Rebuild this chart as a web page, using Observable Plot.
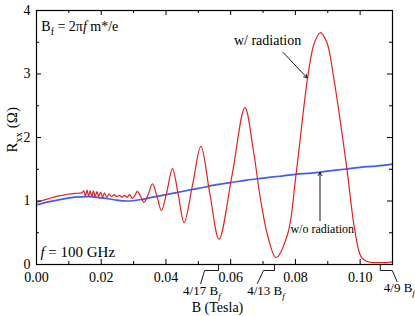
<!DOCTYPE html>
<html><head><meta charset="utf-8">
<script src="https://cdn.jsdelivr.net/npm/d3@7"></script>
<script src="https://cdn.jsdelivr.net/npm/@observablehq/plot@0.6"></script>
<style>html,body{margin:0;padding:0;background:#fff;}</style>
</head><body><div id="chart"></div>
<script>
// ---- data (B in Tesla, Rxx in Ohm) ----
const redB = [0.000,0.002,0.004,0.006,0.008,0.010,0.012,
  0.0140,0.0146,0.0151,0.0156,0.0161,0.0166,0.0171,0.0176,0.0181,0.0187,0.0192,0.0198,0.0204,0.0210,0.0217,0.0224,0.0232,0.0240,0.0248,0.0256,0.0264,0.0272,0.0280,0.0288,0.0296,0.0304,0.0312,0.0322,0.0332,
  0.0345,0.0358,0.0372,0.0386,0.0403,0.0420,0.0438,0.0456,0.0482,0.0508,0.0536,0.0564,
  0.0604,0.0644,0.0670,0.0693,0.0717,0.0740,0.0776,0.0802,0.0838,0.0858,0.0877,0.0897,0.0918,0.0959,0.0982,0.1003,
  0.1020,0.1040,0.1060,0.1080,0.1100];
const redR = [0.98,1.01,1.04,1.07,1.09,1.11,1.12,
  1.13,1.16,1.08,1.17,1.08,1.16,1.07,1.16,1.07,1.15,1.07,1.14,1.06,1.13,1.06,1.11,1.07,1.10,1.07,1.09,1.06,1.09,1.06,1.10,1.04,1.09,1.15,1.07,0.98,
  1.10,1.27,1.08,0.85,1.15,1.51,1.10,0.66,1.25,1.86,1.10,0.40,
  1.40,2.47,1.80,1.00,0.40,0.11,0.48,1.42,2.95,3.48,3.65,3.50,2.95,1.51,0.59,0.12,
  0.05,0.03,0.03,0.03,0.04];
const blueB = [0,0.004,0.008,0.012,0.016,0.020,0.024,0.028,0.032,0.036,0.040,0.045,0.050,0.055,0.060,0.065,0.070,0.075,0.080,0.085,0.090,0.095,0.100,0.105,0.110];
const blueR = [0.94,0.99,1.03,1.06,1.07,1.05,1.02,1.00,1.02,1.06,1.10,1.15,1.20,1.25,1.29,1.33,1.36,1.39,1.42,1.44,1.47,1.50,1.53,1.55,1.58];

const xMajorTicks = [0,0.02,0.04,0.06,0.08,0.10];
const xMinorTicks = [0.01,0.03,0.05,0.07,0.09];
const yMajorTicks = [0,1,2,3,4];
const yMinorTicks = [0.5,1.5,2.5,3.5];

const Bf = 0.239; // Tesla
const fracLabels = ["4/17 B{i:f}", "4/13 B{i:f}", "4/9 B{i:f}"];
const fracValues = [4/17, 4/13, 4/9];

// ---- tables ----
const red = redB.map((B, i) => ({B, R: redR[i]}));
const blue = blueB.map((B, i) => ({B, R: blueR[i]}));

// leader-line layout (annotation geometry, data units)
const leaderLayout = [
  {kink: -0.0043, endDx: -0.0055, endR: -0.30, labelB: 0.0511, labelR: -0.41},
  {kink: -0.0034, endDx: -0.0053, endR: -0.30, labelB: 0.0709, labelR: -0.41},
  {kink: +0.0037, endDx: +0.0052, endR: -0.27, labelB: 0.1121, labelR: -0.36}
];
const leaders = [];
fracValues.forEach((f, k) => {
  const b = Bf * f, L = leaderLayout[k];
  leaders.push({k, B: b, R: 0}, {k, B: b, R: -0.094}, {k, B: b + L.kink, R: -0.094}, {k, B: b + L.endDx, R: L.endR});
});
const fracText = fracLabels.map((t, k) => ({t, B: leaderLayout[k].labelB, R: leaderLayout[k].labelR}));

const FW = 356, FH = 254;

const plot = Plot.plot({
  width: 415, height: 316,
  marginLeft: 36, marginRight: 23, marginTop: 10, marginBottom: 52,
  style: {fontFamily: "'Liberation Serif', 'Times New Roman', serif", fontSize: "14px", color: "#000", background: "#fff", overflow: "visible"},
  x: {domain: [0, 0.11]},
  y: {domain: [0, 4]},
  marks: [
    Plot.line(blue, {x: "B", y: "R", stroke: "#3f5cf8", strokeWidth: 1.7, curve: "catmull-rom"}),
    Plot.line(red, {x: "B", y: "R", stroke: "#e3221e", strokeWidth: 1.2, curve: "catmull-rom"}),
    Plot.frame({stroke: "#000", strokeWidth: 1.2}),
    // inward ticks
    Plot.tickX(xMajorTicks, {x: d => d, insetTop: FH - 5, stroke: "#000"}),
    Plot.tickX(xMinorTicks, {x: d => d, insetTop: FH - 3, stroke: "#000"}),
    Plot.tickX(xMajorTicks, {x: d => d, insetBottom: FH - 5, stroke: "#000"}),
    Plot.tickX(xMinorTicks, {x: d => d, insetBottom: FH - 3, stroke: "#000"}),
    Plot.tickY(yMajorTicks, {y: d => d, insetRight: FW - 5, stroke: "#000"}),
    Plot.tickY(yMinorTicks, {y: d => d, insetRight: FW - 3, stroke: "#000"}),
    Plot.tickY(yMajorTicks, {y: d => d, insetLeft: FW - 5, stroke: "#000"}),
    Plot.tickY(yMinorTicks, {y: d => d, insetLeft: FW - 3, stroke: "#000"}),
    Plot.axisX({ticks: xMajorTicks, tickSize: 0, tickPadding: 8, tickFormat: d3.format(".2f"), label: null, fontSize: 14}),
    Plot.axisY({ticks: yMajorTicks, tickSize: 0, tickPadding: 6, tickFormat: d3.format("d"), label: null, fontSize: 14}),
    Plot.text(["B (Tesla)"], {frameAnchor: "bottom", dx: 3, dy: 47, lineAnchor: "bottom", fontSize: 14}),
    Plot.text(["R{s:xx} (Ω)"], {frameAnchor: "left", dx: -24, dy: 15, rotate: -90, fontSize: 15}),
    // annotations
    Plot.text(["B{s:f} = 2π{i:f} m*/e"], {x: 0.0015, y: 3.75, textAnchor: "start", fontSize: 14}),
    Plot.text(["{i:f} = 100 GHz"], {x: 0.0012, y: 0.19, textAnchor: "start", fontSize: 15}),
    Plot.text(["w/ radiation"], {x: 0.0714, y: 3.53, fontSize: 14}),
    Plot.text(["w/o radiation"], {x: 0.0883, y: 0.55, fontSize: 12}),
    Plot.arrow([{x1: 0.0762, y1: 3.34, x2: 0.0836, y2: 2.94}], {x1: "x1", y1: "y1", x2: "x2", y2: "y2", stroke: "#000", strokeWidth: 0.9, headLength: 6}),
    Plot.arrow([{x1: 0.0876, y1: 0.69, x2: 0.0876, y2: 1.45}], {x1: "x1", y1: "y1", x2: "x2", y2: "y2", stroke: "#000", strokeWidth: 0.9, headLength: 6}),
    Plot.line(leaders, {x: "B", y: "R", z: "k", stroke: "#000", strokeWidth: 0.9}),
    Plot.text(fracText, {x: "B", y: "R", text: "t", fontSize: 13})
  ]
});
document.getElementById("chart").appendChild(plot);

// rich text: {s:..} subscript, {i:..} italic (italic after "B" is an italic subscript)
function richify(root) {
  d3.select(root).selectAll("text").each(function() {
    const s = this.textContent;
    if (!s.includes("{")) return;
    const fs = parseFloat(getComputedStyle(this).fontSize) || 14;
    const sel = d3.select(this);
    sel.text(null);
    const re = /\{([is]+):([^}]*)\}/g;
    let last = 0, m, shift = 0;
    const add = (str, flags) => {
      if (!str) return;
      const sub = flags.includes("s") || (flags.includes("i") && /B$/.test(sel.text()));
      const ts = sel.append("tspan").text(str);
      const target = sub ? 0.32 * fs : 0;
      if (target !== shift) { ts.attr("dy", target - shift); shift = target; }
      if (sub) ts.attr("font-size", 0.7 * fs);
      if (flags.includes("i")) ts.attr("font-style", "italic");
    };
    while ((m = re.exec(s))) { add(s.slice(last, m.index), ""); add(m[2], m[1]); last = re.lastIndex; }
    add(s.slice(last), "");
  });
}
richify(plot);
</script>
</body></html>
